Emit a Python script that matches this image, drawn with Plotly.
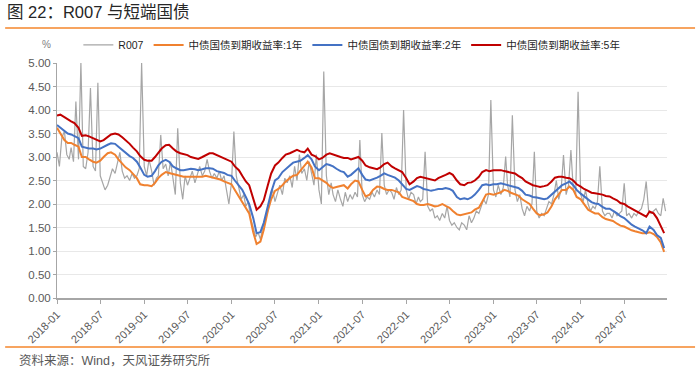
import pandas as pd
import plotly.graph_objects as go

# ---------------- data ----------------
# yields sampled on the 1st and 15th of each month, 2018-01 .. 2024-12
yield_months = pd.date_range("2018-01-01", "2024-12-01", freq="MS")
yield_days = [1, 15]

y5 = [
    3.88, 3.90, 3.85, 3.80, 3.76, 3.72, 3.62, 3.45, 3.46, 3.44, 3.40, 3.36, 3.33, 3.36, 3.42, 3.48, 3.50, 3.48, 3.42, 3.36, 3.28, 3.20, 3.12, 3.02,
    2.94, 2.92, 2.92, 3.00, 3.10, 3.18, 3.25, 3.26, 3.18, 3.12, 3.08, 3.06, 3.04, 3.00, 2.98, 2.96, 3.00, 3.04, 3.08, 3.08, 3.04, 3.00, 2.96, 2.94,
    2.90, 2.80, 2.72, 2.60, 2.48, 2.40, 2.10, 1.88, 1.95, 2.08, 2.40, 2.65, 2.82, 2.88, 2.98, 3.05, 3.08, 3.12, 3.15, 3.12, 3.10, 3.18, 3.05, 3.02,
    2.95, 2.98, 3.05, 3.08, 3.05, 3.02, 3.00, 2.98, 2.98, 2.95, 2.97, 3.00, 2.92, 2.82, 2.78, 2.76, 2.74, 2.78, 2.85, 2.88, 2.80, 2.76, 2.72, 2.68,
    2.55, 2.42, 2.48, 2.55, 2.58, 2.56, 2.55, 2.52, 2.50, 2.55, 2.58, 2.62, 2.66, 2.62, 2.50, 2.42, 2.40, 2.45, 2.46, 2.50, 2.58, 2.68, 2.72, 2.70,
    2.72, 2.72, 2.72, 2.70, 2.68, 2.66, 2.65, 2.60, 2.55, 2.48, 2.44, 2.40, 2.38, 2.36, 2.38, 2.40, 2.48, 2.56, 2.58, 2.58, 2.56, 2.55, 2.50, 2.42,
    2.37, 2.32, 2.28, 2.24, 2.23, 2.22, 2.20, 2.17, 2.16, 2.12, 2.08, 2.02, 2.00, 1.95, 1.90, 1.87, 1.82, 1.78, 1.73, 1.84, 1.80, 1.70, 1.52, 1.38,
]
y2 = [
    3.68, 3.62, 3.54, 3.50, 3.48, 3.45, 3.40, 3.22, 3.20, 3.18, 3.18, 3.16, 3.18, 3.22, 3.26, 3.29, 3.28, 3.22, 3.15, 3.08, 3.02, 2.98, 2.90, 2.78,
    2.62, 2.58, 2.60, 2.70, 2.82, 2.90, 2.94, 2.90, 2.80, 2.76, 2.72, 2.72, 2.74, 2.75, 2.74, 2.72, 2.74, 2.76, 2.76, 2.75, 2.70, 2.68, 2.66, 2.62,
    2.60, 2.50, 2.38, 2.30, 2.15, 2.00, 1.70, 1.38, 1.40, 1.60, 1.95, 2.25, 2.50, 2.55, 2.68, 2.75, 2.82, 2.88, 2.90, 2.92, 2.98, 3.04, 2.95, 2.80,
    2.72, 2.78, 2.85, 2.83, 2.80, 2.75, 2.70, 2.68, 2.58, 2.62, 2.70, 2.76, 2.62, 2.52, 2.50, 2.52, 2.56, 2.60, 2.65, 2.62, 2.58, 2.56, 2.50, 2.42,
    2.32, 2.30, 2.35, 2.38, 2.36, 2.32, 2.30, 2.28, 2.30, 2.32, 2.32, 2.34, 2.32, 2.28, 2.15, 2.10, 2.12, 2.10, 2.14, 2.20, 2.30, 2.40, 2.42, 2.40,
    2.42, 2.42, 2.44, 2.42, 2.40, 2.38, 2.36, 2.34, 2.28, 2.20, 2.18, 2.15, 2.14, 2.12, 2.10, 2.12, 2.20, 2.28, 2.34, 2.40, 2.44, 2.48, 2.40, 2.30,
    2.22, 2.16, 2.10, 2.04, 2.01, 2.00, 1.94, 1.90, 1.90, 1.86, 1.80, 1.74, 1.70, 1.64, 1.56, 1.52, 1.48, 1.44, 1.38, 1.52, 1.45, 1.34, 1.28, 1.06,
]
y1 = [
    3.62, 3.50, 3.36, 3.30, 3.30, 3.26, 3.22, 3.00, 3.00, 2.95, 2.90, 2.88, 2.92, 3.00, 3.08, 3.10, 3.05, 2.95, 2.85, 2.78, 2.72, 2.65, 2.55, 2.42,
    2.40, 2.40, 2.38, 2.45, 2.55, 2.62, 2.68, 2.66, 2.64, 2.62, 2.60, 2.58, 2.58, 2.58, 2.58, 2.57, 2.58, 2.60, 2.58, 2.56, 2.55, 2.52, 2.48, 2.45,
    2.42, 2.30, 2.15, 2.05, 1.90, 1.80, 1.40, 1.15, 1.20, 1.45, 1.85, 2.10, 2.28, 2.32, 2.40, 2.48, 2.55, 2.60, 2.62, 2.70, 2.80, 2.90, 2.78, 2.55,
    2.55, 2.50, 2.45, 2.38, 2.34, 2.36, 2.38, 2.40, 2.33, 2.42, 2.50, 2.48, 2.30, 2.16, 2.20, 2.30, 2.37, 2.36, 2.32, 2.30, 2.30, 2.28, 2.25, 2.15,
    2.12, 2.08, 2.06, 2.00, 1.98, 1.98, 2.00, 1.98, 1.95, 1.96, 2.00, 1.96, 1.92, 1.85, 1.78, 1.76, 1.78, 1.80, 1.82, 1.88, 1.92, 2.05, 2.20, 2.22,
    2.20, 2.22, 2.25, 2.30, 2.28, 2.24, 2.20, 2.18, 2.10, 2.05, 2.00, 1.90, 1.80, 1.76, 1.78, 1.82, 1.95, 2.10, 2.20, 2.30, 2.30, 2.37, 2.30, 2.15,
    2.10, 2.00, 1.88, 1.84, 1.80, 1.80, 1.72, 1.68, 1.66, 1.64, 1.58, 1.54, 1.52, 1.48, 1.44, 1.42, 1.40, 1.38, 1.38, 1.40, 1.36, 1.30, 1.18, 0.98,
]

# R007 sampled on the 1st, 11th and 21st of each month
r007_days = [1, 11, 21]
r007 = [
    3.10, 2.80, 3.40, 3.55, 3.05, 2.95, 3.20, 2.90, 4.18, 2.95, 5.00, 2.80,
    2.75, 3.10, 4.47, 2.80, 2.70, 4.58, 2.60, 2.45, 2.30, 2.40, 2.60, 2.75,
    2.65, 2.90, 3.10, 2.70, 2.55, 2.60, 2.50, 2.65, 2.55, 2.60, 2.75, 5.00,
    2.80, 2.60, 2.95, 2.70, 2.40, 2.55, 2.60, 3.47, 2.75, 2.85, 2.60, 2.90,
    2.50, 2.20, 3.61, 2.45, 2.10, 2.60, 2.40, 2.55, 2.70, 2.45, 2.65, 2.80,
    2.60, 2.70, 2.95, 2.70, 2.55, 2.65, 2.55, 2.70, 2.50, 2.60, 2.30, 2.00,
    2.45, 3.54, 2.60, 2.30, 2.10, 2.20, 1.95, 2.05, 1.70, 1.50, 1.30, 1.40,
    1.25, 1.50, 1.65, 1.85, 2.10, 2.30, 2.05, 2.25, 2.40, 2.20, 2.55, 2.45,
    2.60, 2.35, 2.80, 2.50, 3.05, 2.65, 2.75, 2.50, 2.90, 2.65, 2.40, 3.05,
    2.30, 2.00, 4.82, 2.60, 2.20, 2.45, 2.20, 2.05, 2.30, 2.10, 1.95, 2.25,
    2.05, 2.20, 2.10, 2.25, 2.15, 3.36, 2.20, 2.05, 2.15, 2.10, 2.25, 2.15,
    2.30, 2.20, 3.51, 2.40, 2.20, 2.30, 2.25, 2.10, 2.35, 2.20, 2.30, 4.00,
    2.30, 2.10, 2.25, 2.20, 2.00, 2.15, 2.05, 2.10, 3.11, 1.95, 1.85, 1.90,
    1.70, 1.75, 1.65, 1.80, 1.70, 1.95, 1.65, 1.55, 1.60, 1.50, 1.45, 1.60,
    1.55, 1.45, 1.75, 1.60, 1.70, 1.85, 1.80, 1.95, 2.10, 2.00, 2.20, 4.21,
    2.30, 2.15, 2.40, 2.20, 2.35, 3.01, 2.40, 2.15, 3.89, 2.30, 2.05, 2.20,
    1.90, 1.75, 1.95, 1.85, 2.00, 3.11, 1.85, 1.70, 1.80, 1.75, 1.90, 2.05,
    2.00, 2.20, 2.50, 2.10, 2.30, 3.04, 2.20, 2.40, 3.15, 2.30, 2.20, 4.39,
    2.20, 2.05, 2.30, 2.00, 1.85, 1.95, 1.90, 2.05, 2.80, 1.85, 1.75, 1.80,
    1.80, 1.70, 1.85, 1.75, 1.80, 1.85, 2.44, 1.75, 1.80, 1.70, 1.80, 1.75,
    1.85, 1.90, 2.10, 2.48, 1.85, 1.80, 1.85, 1.90, 1.80, 1.75, 2.12, 1.85,
]

series_names = ["R007", "中债国债到期收益率:1年", "中债国债到期收益率:2年", "中债国债到期收益率:5年"]
y_ticks = [0, 0.5, 1, 1.5, 2, 2.5, 3, 3.5, 4, 4.5, 5]

title_text = "图 22：R007 与短端国债"
source_text = "资料来源：Wind，天风证券研究所"

# ---------------- build dates ----------------
yield_dates = [m + pd.Timedelta(days=d - 1) for m in yield_months for d in yield_days]
r007_dates = [m + pd.Timedelta(days=d - 1) for m in yield_months for d in r007_days]

FONT = "Liberation Sans, Noto Sans CJK SC, sans-serif"

fig = go.Figure()
fig.add_trace(go.Scatter(x=r007_dates, y=r007, mode="lines", name=series_names[0],
                         line=dict(color="#A6A6A6", width=1.2)))
fig.add_trace(go.Scatter(x=yield_dates, y=y1, mode="lines", name=series_names[1],
                         line=dict(color="#F0812F", width=2)))
fig.add_trace(go.Scatter(x=yield_dates, y=y2, mode="lines", name=series_names[2],
                         line=dict(color="#4472C4", width=2)))
fig.add_trace(go.Scatter(x=yield_dates, y=y5, mode="lines", name=series_names[3],
                         line=dict(color="#C00000", width=2)))

fig.update_layout(
    width=700, height=372,
    margin=dict(l=57, r=33, t=63, b=74, autoexpand=False),
    paper_bgcolor="white", plot_bgcolor="white",
    font=dict(family=FONT, size=11, color="#595959"),
    showlegend=True,
    legend=dict(orientation="h", x=0.035, y=1.077, xanchor="left", yanchor="middle",
                font=dict(size=10.5, color="#1F1F1F"), itemwidth=30,
                bgcolor="rgba(0,0,0,0)", tracegroupgap=0),
    xaxis=dict(
        range=["2018-01-01", "2024-12-27"], automargin=False,
        tick0="2018-01-01", dtick="M6", tickformat="%Y-%m",
        tickangle=-45, ticks="outside", ticklen=4, tickcolor="#A6A6A6",
        showline=True, linecolor="#A6A6A6", linewidth=1.5,
        showgrid=False, zeroline=False,
        tickfont=dict(size=11, color="#595959"),
    ),
    yaxis=dict(
        range=[0, 5], tickvals=y_ticks, tickformat=".2f", automargin=False,
        showgrid=True, gridcolor="#E8E8E8", gridwidth=1,
        showline=True, linecolor="#A6A6A6", linewidth=1,
        ticks="outside", ticklen=3, tickcolor="#A6A6A6",
        zeroline=False, tickfont=dict(size=11.5, color="#595959"),
    ),
)

fig.add_annotation(text=title_text, xref="paper", yref="paper", x=-0.085, y=1.215,
                   xanchor="left", yanchor="middle", showarrow=False,
                   font=dict(family=FONT, size=16.5, color="#262626"))
fig.add_annotation(text="%", xref="paper", yref="paper", x=-0.018, y=1.077,
                   xanchor="center", yanchor="middle", showarrow=False,
                   font=dict(family=FONT, size=10, color="#808080"))
fig.add_annotation(text=source_text, xref="paper", yref="paper", x=-0.0656, y=-0.264,
                   xanchor="left", yanchor="middle", showarrow=False,
                   font=dict(family=FONT, size=12.5, color="#595959"))

for yy in (1.149, -0.2085):
    fig.add_shape(type="line", xref="paper", yref="paper", x0=-0.085, x1=1.046,
                  y0=yy, y1=yy, line=dict(color="#F4862B", width=1.5))

fig.write_html(
    "out.html",
    config={"displayModeBar": False},
    post_script="document.body.style.margin='0';document.body.style.padding='0';document.body.style.overflow='hidden';",
)
